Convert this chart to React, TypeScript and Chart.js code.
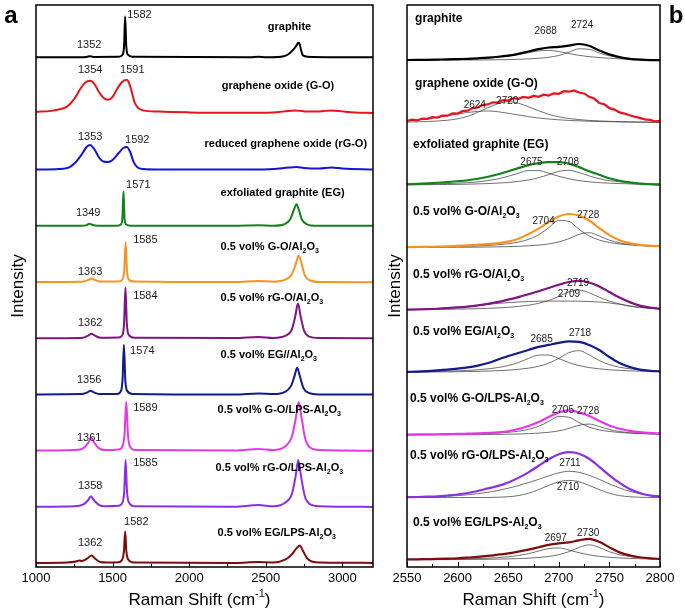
import React, { useEffect, useRef } from "react";
import { Chart, registerables } from "chart.js";
Chart.register(...registerables);

const FONT = "'Liberation Sans', Arial, Helvetica, sans-serif";
type Pt = [number, number];

// ================= Panel a : full Raman spectra (shift cm-1, intensity a.u.) =================
const aGraphite: Pt[] = [[1000,0.5],[1200,0.5],[1330,0.8],[1352,1.5],[1375,0.8],[1540,1],[1565,3],[1575,12],[1582,41],[1589,12],[1600,3],[1630,1],[2400,0.5],[2450,1],[2500,0.5],[2600,1],[2630,2],[2660,5],[2685,9],[2700,12],[2712,15],[2720,14],[2730,8],[2740,3],[2755,1.5],[2800,0.8],[3200,0.5]];
const aGO: Pt[] = [[1000,2],[1100,3],[1150,4.5],[1200,7],[1250,15],[1290,25],[1320,31],[1354,33],[1385,29],[1410,22],[1440,16],[1470,14],[1500,17],[1530,25],[1560,31.5],[1591,34],[1610,30],[1625,22],[1645,11],[1670,5.5],[1700,3.5],[1800,2.3],[2000,1.5],[2300,1.2],[2550,1.5],[2620,2.5],[2690,3.5],[2760,2.5],[2850,2.5],[2930,3.5],[3000,2.5],[3080,1.5],[3200,1]];
const aRGO: Pt[] = [[1000,0.5],[1150,1],[1220,3],[1260,8],[1300,16],[1330,23],[1353,25],[1380,21],[1410,13],[1440,8.5],[1470,8],[1500,10],[1540,17],[1570,22],[1592,23],[1615,18],[1635,9],[1660,3],[1700,1],[1800,0.5],[2400,0.5],[2550,1],[2650,2.5],[2700,3],[2750,2],[2850,1.5],[2930,2.5],[3000,1.5],[3200,0.5]];
const aEG: Pt[] = [[1000,0.5],[1300,0.5],[1330,1.2],[1349,2.5],[1370,1.2],[1400,0.5],[1530,0.5],[1555,2],[1564,8],[1571,35],[1578,8],[1587,2],[1620,0.5],[2300,0.5],[2450,1],[2550,0.5],[2620,2],[2660,7],[2685,17],[2700,22],[2715,17],[2735,7],[2770,2],[2820,0.5],[3200,0.5]];
const aGOAl: Pt[] = [[1000,0.5],[1300,0.8],[1340,2.5],[1363,4],[1385,2.5],[1420,1],[1540,1],[1565,3],[1576,12],[1585,40],[1594,12],[1605,3],[1640,1],[2300,0.5],[2450,1.5],[2550,0.8],[2630,3],[2670,8],[2695,18],[2715,27],[2735,18],[2755,7],[2790,2],[2850,0.5],[3200,0.3]];
const aRGOAl: Pt[] = [[1000,0.5],[1300,0.8],[1340,3],[1362,5],[1385,3],[1420,1],[1540,1.2],[1565,4],[1575,15],[1584,51],[1593,15],[1605,4],[1640,1],[2300,0.6],[2450,1.8],[2550,0.8],[2630,3],[2670,9],[2692,22],[2710,35],[2728,22],[2750,8],[2785,2],[2850,0.6],[3200,0.4]];
const aEGAl: Pt[] = [[1000,0.5],[1300,0.8],[1335,2.5],[1356,4],[1378,2.5],[1410,1],[1530,1],[1555,4],[1565,15],[1574,50],[1583,15],[1595,4],[1630,1],[2300,0.5],[2450,1.5],[2550,0.8],[2625,3],[2665,9],[2688,19],[2705,27],[2722,19],[2745,7],[2780,2],[2850,0.5],[3200,0.3]];
const aGOLPS: Pt[] = [[1000,0.5],[1250,1],[1310,3],[1340,8],[1361,13],[1382,8],[1410,3],[1450,1],[1540,1.5],[1565,5],[1578,17],[1589,49],[1600,17],[1612,5],[1650,1],[2300,0.6],[2450,2],[2550,1],[2630,5],[2670,14],[2695,32],[2715,49],[2735,32],[2758,12],[2790,3.5],[2850,1],[3200,0.4]];
const aRGOLPS: Pt[] = [[1000,0.5],[1250,1],[1310,3],[1340,7],[1358,11],[1378,7],[1410,2.5],[1450,1],[1540,1.5],[1565,5],[1576,16],[1585,47],[1594,16],[1606,5],[1645,1],[2300,0.6],[2450,2.2],[2550,1],[2630,5],[2670,13],[2695,31],[2712,47],[2730,31],[2755,11],[2790,3],[2850,1],[3200,0.4]];
const aEGLPS: Pt[] = [[1000,0.5],[1200,1],[1260,2],[1282,3],[1300,2.5],[1335,5],[1362,8],[1385,5],[1420,1.5],[1460,1],[1540,1.2],[1563,4],[1574,12],[1582,32],[1590,12],[1602,4],[1640,1],[2300,0.6],[2450,1.5],[2550,1],[2630,4],[2670,9],[2700,15],[2722,18],[2745,12],[2770,5],[2800,2],[2860,1],[3200,0.6]];

const aSpectra = [aGraphite, aGO, aRGO, aEG, aGOAl, aRGOAl, aEGAl, aGOLPS, aRGOLPS, aEGLPS];
const aNames = ["graphite", "graphene oxide (G-O)", "reduced graphene oxide (rG-O)", "exfoliated graphite (EG)", "0.5 vol% G-O/Al_2O_3", "0.5 vol% rG-O/Al_2O_3", "0.5 vol% EG//Al_2O_3", "0.5 vol% G-O/LPS-Al_2O_3", "0.5 vol% rG-O/LPS-Al_2O_3", "0.5 vol% EG/LPS-Al_2O_3"];
const aPeakG = [1582, 1591, 1592, 1571, 1585, 1584, 1574, 1589, 1585, 1582];
const aPeakD = [1352, 1354, 1353, 1349, 1363, 1362, 1356, 1361, 1358, 1362];
const aTicks = [1000, 1500, 2000, 2500, 3000];

// ================= Panel b : 2D band with fitted components =================
const bShift = [2550,2560,2570,2580,2590,2600,2610,2620,2630,2640,2650,2660,2670,2680,2690,2700,2710,2720,2730,2740,2750,2760,2770,2780,2790,2800];
const bShiftFine = [2550,2555,2560,2565,2570,2575,2580,2585,2590,2595,2600,2605,2610,2615,2620,2625,2630,2635,2640,2645,2650,2655,2660,2665,2670,2675,2680,2685,2690,2695,2700,2705,2710,2715,2720,2725,2730,2735,2740,2745,2750,2755,2760,2765,2770,2775,2780,2785,2790,2795,2800];

const bGraphite = [0.4,0.5,0.6,0.8,1.0,1.3,1.6,2.1,2.7,3.6,4.8,6.5,8.8,11.2,12.8,13.5,14.7,16.3,14.5,9.8,6.0,3.2,1.5,0.7,0.3,0.2];
const bGraphiteC1 = [0.5,0.6,0.7,0.8,1.0,1.2,1.4,1.8,2.3,3.1,4.2,5.7,7.6,9.4,10.0,8.8,6.8,5.0,3.7,2.8,2.1,1.6,1.2,0.9,0.6,0.4];
const bGraphiteC2 = [0.2,0.2,0.2,0.2,0.3,0.3,0.4,0.4,0.5,0.7,0.8,1.1,1.5,2.1,3.1,4.9,8.1,11.5,11.0,7.3,4.5,2.8,1.8,1.2,0.8,0.5];

const bGO = [2,3.1,2.4,4.2,3.9,5.6,5.2,7.3,7.1,9.4,9.2,11.6,12.1,14.6,15.2,17.9,18.3,20.4,20.2,22.5,22.1,24.4,23.8,25.7,24.9,26.8,25.9,27.9,27.1,29.3,28.8,31.4,30.9,32.2,30.1,29.2,25.8,24.1,19.7,18.4,14.6,13.1,10.4,9.2,7.5,6.1,4.9,3.4,3.0,1.6,1.9];
const bGOC1 = [2,3,4,5.5,7,8.8,10.3,11.4,11.8,11,9.5,7.8,6.2,4.8,3.8,3,2.4,2,1.6,1.3,1.1,0.9,0.8,0.7,0.6,0.5];
const bGOC2 = [0.8,1,1.3,1.8,2.6,4,6.5,10.5,15,19,21,19.5,16,12,8.5,6,4.3,3.2,2.4,1.9,1.5,1.2,1,0.8,0.7,0.6];

const bEG = [1,1.4,1.9,2.5,3.2,4,5,6.5,8.5,11,14,17,20,22,23,23,21.5,18,14,10.5,7,4.5,2.8,1.6,1,0.6];
const bEGC1 = [0.8,1.0,1.1,1.4,1.7,2.1,2.6,3.4,4.6,6.4,8.9,12,14.6,14.6,12,8.9,6.4,4.6,3.4,2.6,2.1,1.7,1.4,1.1,1.0,0.8];
const bEGC2 = [0.5,0.5,0.6,0.7,0.8,0.9,1.1,1.4,1.7,2.2,2.8,3.8,5.3,7.5,10.6,13.9,14.9,12.7,9.3,6.5,4.6,3.4,2.5,2.0,1.6,1.3];

const bGOAl = [0.6,0.7,0.9,1.1,1.4,1.8,2.3,2.9,3.6,4.6,6,9,13.5,19,25.5,31,33.5,32,27,19.5,12.5,7.5,4.5,2.8,2,1.6];
const bGOAlC1 = [0.56,0.64,0.73,0.85,1.0,1.2,1.45,1.8,2.28,2.96,3.99,5.6,8.26,12.8,19.9,27.1,26.1,18.3,11.7,7.61,5.21,3.74,2.8,2.17,1.72,1.4];
const bGOAlC2 = [0.23,0.25,0.29,0.32,0.37,0.43,0.5,0.6,0.72,0.88,1.1,1.42,1.89,2.6,3.77,5.73,8.99,13.3,14.9,11.6,7.5,4.81,3.23,2.28,1.68,1.28];

const bRGOAl = [0.5,0.7,1.0,1.4,2.0,2.7,3.6,4.8,6.3,8.2,10.5,13,15.8,18.8,22,25.3,28,29,27.5,23.5,18,12.5,8,4.5,2.5,1.5];
const bRGOAlC1 = [0.53,0.6,0.68,0.78,0.9,1.05,1.24,1.48,1.8,2.23,2.83,3.68,4.92,6.8,9.65,13.7,18.1,20,17.3,12.8,8.98,6.37,4.0,2.8,2.0,1.5];
const bRGOAlC2 = [0.5,0.7,1.0,1.5,2.1,2.9,3.8,4.8,5.8,6.7,7.5,8.1,8.6,8.9,9,9,9,8.9,8.6,8.1,7.2,5.8,4.2,2.8,1.8,1.1];

const bEGAl = [0.8,1.0,1.5,2.2,3.0,4.0,5.2,7,9.5,13,16.5,19.5,22.5,25.5,27.5,29.5,31,30.5,27.5,22.5,15.5,9.5,5.5,3,1.8,1.2];
const bEGAlC1 = [0.74,0.86,1.01,1.19,1.44,1.76,2.2,2.82,3.7,5.03,7.02,10,14,17.4,17.4,14,10,7.02,5.03,3.7,2.82,2.2,1.76,1.44,1.19,1.01];
const bEGAlC2 = [0.44,0.5,0.56,0.65,0.75,0.87,1.04,1.24,1.53,1.9,2.44,3.22,4.4,6.27,9.32,14.1,19.8,21.8,17.6,11.96,7.92,5.42,3.87,2.87,2.2,1.73];

const bGOLPS = [0.5,0.6,0.7,0.8,1.0,1.1,1.4,1.7,2.1,2.7,3.8,6,9,13,18,22.5,24.5,22.5,19,14,9.5,6.3,4.2,2.9,2.1,1.6];
const bGOLPSC1 = [0.38,0.43,0.5,0.58,0.68,0.81,0.98,1.22,1.55,2.01,2.71,3.8,5.61,8.69,13.5,18.4,17.7,12.4,7.94,5.17,3.54,2.54,1.9,1.47,1.17,0.95];
const bGOLPSC2 = [0.17,0.18,0.21,0.23,0.27,0.32,0.37,0.44,0.53,0.65,0.81,1.04,1.39,1.91,2.76,4.2,6.59,9.75,10.9,8.5,5.5,3.53,2.37,1.67,1.23,0.94];

const bRGOLPS = [0.3,0.5,0.8,1.2,2,3,4.5,6.5,9,11.5,15,19.5,25,31.5,38,43,45,43.5,38.5,30.5,22,14.5,8.5,4.5,2,1];
const bRGOLPSC1 = [0.3,0.4,0.6,0.9,1.3,1.9,2.7,3.8,5.2,7,9.2,11.8,14.8,18,21.5,24.5,26,25,22,18,13.5,9.5,6.2,3.8,2.2,1.3];
const bRGOLPSC2 = [0,0,0,0,0,0,0,0,0.05,0.24,0.75,1.9,4.2,7.8,12,15.6,17,15.6,12,7.8,4.2,1.9,0.75,0.24,0.05,0];

const bEGLPS = [0.5,0.6,0.8,1.0,1.3,1.7,2.3,3.0,4.0,5.2,6.6,8.3,10.3,12.6,15,16.5,17.5,19.5,21,18,12.5,7.5,4.5,2.7,1.6,1];
const bEGLPSC1 = [0.42,0.48,0.56,0.65,0.77,0.92,1.13,1.4,1.78,2.33,3.14,4.37,6.22,8.77,11.3,11.9,9.87,7.16,5.02,3.57,2.62,1.98,1.54,1.23,1.0,0.83];
const bEGLPSC2 = [0.21,0.24,0.27,0.3,0.35,0.41,0.48,0.57,0.69,0.85,1.06,1.35,1.78,2.43,3.48,5.24,8.2,12.4,15,12.4,8.2,5.24,3.48,2.43,1.78,1.35];

const bMain = [bGraphite, bGO, bEG, bGOAl, bRGOAl, bEGAl, bGOLPS, bRGOLPS, bEGLPS];
const bComp1 = [bGraphiteC1, bGOC1, bEGC1, bGOAlC1, bRGOAlC1, bEGAlC1, bGOLPSC1, bRGOLPSC1, bEGLPSC1];
const bComp2 = [bGraphiteC2, bGOC2, bEGC2, bGOAlC2, bRGOAlC2, bEGAlC2, bGOLPSC2, bRGOLPSC2, bEGLPSC2];
const bNames = ["graphite", "graphene oxide (G-O)", "exfoliated graphite (EG)", "0.5 vol% G-O/Al_2O_3", "0.5 vol% rG-O/Al_2O_3", "0.5 vol% EG/Al_2O_3", "0.5 vol% G-O/LPS-Al_2O_3", "0.5 vol% rG-O/LPS-Al_2O_3", "0.5 vol% EG/LPS-Al_2O_3"];
const bPeak1 = [2688, 2624, 2675, 2704, 2719, 2685, 2705, 2711, 2697];
const bPeak2 = [2724, 2720, 2708, 2728, 2709, 2718, 2728, 2710, 2730];
const bTicks = [2550, 2600, 2650, 2700, 2750, 2800];

// ================= styling / layout (not data) =================
const aColors = ["#000000", "#e8131b", "#1414d8", "#14821a", "#f7931e", "#7f1482", "#121a8c", "#e637e6", "#8b2ee6", "#7d0c0c"];
const bColors = ["#000000", "#e8131b", "#14821a", "#f7931e", "#7f1482", "#121a8c", "#e637e6", "#8b2ee6", "#7d0c0c"];
// label anchors: [shift, height above row baseline]
const aNameAt: Pt[] = [[2513,30.7],[2212,27.9],[2100,26],[2205,33.3],[2205,35.5],[2205,40.7],[2205,40],[2185,41],[2172,39],[2185,30.5]];
const aGAt: Pt[] = [[1675,42.7],[1629,43.9],[1661,30],[1668,41],[1714,42.5],[1714,42.7],[1694,44],[1714,43],[1714,44],[1655,41.5]];
const aDAt: Pt[] = [[1347,12.7],[1354,43.9],[1354,33],[1341,13],[1354,10.5],[1354,15.7],[1347,15],[1347,13],[1354,21],[1354,20.5]];
const bNameAt: Pt[] = [[2558,41.4],[2558,38.9],[2556,40.3],[2556,35.8],[2556,35.2],[2556,40.6],[2553,36.1],[2553,41.5],[2556,37]];
const bP1At: Pt[] = [[2687,29.4],[2617,17],[2673,23.3],[2685,25.8],[2719,27.2],[2683,33.6],[2704,25.1],[2711,34.5],[2697,22]];
const bP2At: Pt[] = [[2723,34.4],[2649,21],[2709,23.3],[2729,31.8],[2710,16.2],[2721,38.6],[2729,24.1],[2709,10.5],[2729,27]];

function drawRich(ctx: CanvasRenderingContext2D, text: string, x: number, y: number, size: number, weight: string, align: string) {
  const segs: { t: string; m: number }[] = [];
  let buf = "";
  for (let i = 0; i < text.length; i++) {
    const c = text[i];
    if (c === "_" && i + 1 < text.length) {
      if (buf) segs.push({ t: buf, m: 0 });
      buf = "";
      segs.push({ t: text[i + 1], m: 1 });
      i++;
    } else if (c === "^" && text[i + 1] === "{") {
      if (buf) segs.push({ t: buf, m: 0 });
      buf = "";
      const end = text.indexOf("}", i);
      segs.push({ t: text.slice(i + 2, end), m: 2 });
      i = end;
    } else buf += c;
  }
  if (buf) segs.push({ t: buf, m: 0 });
  const small = Math.round(size * 0.62);
  const fontFor = (m: number) => `${weight} ${m === 0 ? size : small}px ${FONT}`;
  let total = 0;
  const widths = segs.map((s) => {
    ctx.font = fontFor(s.m);
    const w = ctx.measureText(s.t).width;
    total += w;
    return w;
  });
  let cx = align === "center" ? x - total / 2 : align === "right" ? x - total : x;
  ctx.textAlign = "left";
  ctx.textBaseline = "middle";
  segs.forEach((s, i) => {
    ctx.font = fontFor(s.m);
    const dy = s.m === 1 ? size * 0.38 : s.m === 2 ? -size * 0.38 : 0;
    ctx.fillText(s.t, cx, y + dy);
    cx += widths[i];
  });
}

type Deco = {
  rows: number; row: number; off: number; step: number;
  names: string[]; nameAt: Pt[]; nameSize: number;
  n1: number[]; n1At: Pt[]; n2: number[]; n2At: Pt[]; numSize: number;
  yTitleX: number; letter: string; letterX: number; titleShift: number;
};

function decoPlugin(d: Deco) {
  return {
    id: "deco",
    afterDatasetsDraw(chart: any) {
      const ctx: CanvasRenderingContext2D = chart.ctx;
      const ca = chart.chartArea;
      const xs = chart.scales.x;
      const ys = chart.scales.y;
      const base = (k: number) => (d.rows - 1 - k) * d.row + d.off;
      ctx.save();
      ctx.strokeStyle = "#000";
      ctx.lineWidth = 1.5;
      ctx.strokeRect(ca.left, ca.top, ca.right - ca.left, ca.bottom - ca.top);
      ctx.lineWidth = 1;
      const half = d.step / 2;
      for (let v = xs.min; v <= xs.max + 1e-6; v += half) {
        const px = Math.round(xs.getPixelForValue(v)) + 0.5;
        const major = Math.abs((v - xs.min) % d.step) < 1e-6;
        ctx.beginPath();
        ctx.moveTo(px, ca.bottom);
        ctx.lineTo(px, ca.bottom - (major ? 5 : 3));
        ctx.stroke();
      }
      ctx.fillStyle = "#000";
      for (let k = 0; k < d.rows; k++) {
        drawRich(ctx, d.names[k], xs.getPixelForValue(d.nameAt[k][0]), ys.getPixelForValue(base(k) + d.nameAt[k][1]), d.nameSize, "bold", "left");
        ctx.fillStyle = "#1a1a1a";
        drawRich(ctx, String(d.n1[k]), xs.getPixelForValue(d.n1At[k][0]), ys.getPixelForValue(base(k) + d.n1At[k][1]), d.numSize, "normal", "center");
        drawRich(ctx, String(d.n2[k]), xs.getPixelForValue(d.n2At[k][0]), ys.getPixelForValue(base(k) + d.n2At[k][1]), d.numSize, "normal", "center");
        ctx.fillStyle = "#000";
      }
      drawRich(ctx, "Raman Shift (cm^{-1})", (ca.left + ca.right) / 2 + d.titleShift, 600, 17, "normal", "center");
      ctx.save();
      ctx.translate(d.yTitleX, (ca.top + ca.bottom) / 2);
      ctx.rotate(-Math.PI / 2);
      drawRich(ctx, "Intensity", 0, 0, 17, "normal", "center");
      ctx.restore();
      drawRich(ctx, d.letter, d.letterX, 16, 24, "bold", "center");
      ctx.restore();
    },
  };
}

function xAxis(min: number, max: number, step: number) {
  return {
    type: "linear",
    min,
    max,
    afterFit: (s: any) => { s.height = 46; },
    grid: { display: false, drawTicks: false },
    border: { display: false },
    ticks: {
      stepSize: step,
      includeBounds: false,
      autoSkip: false,
      maxRotation: 0,
      padding: 4,
      color: "#000",
      font: { family: FONT, size: 13 },
      callback: (v: any) => String(v),
    },
  };
}

const ROW_A = 56, OFF_A = 3.5, ROW_B = 62, OFF_B = 7;

function buildA(): any {
  const n = aSpectra.length;
  const datasets = aSpectra.map((pts, k) => ({
    data: pts.map(([x, v]) => ({ x, y: (n - 1 - k) * ROW_A + OFF_A + v })),
    borderColor: aColors[k],
    borderWidth: 2,
    pointRadius: 0,
    fill: false,
    cubicInterpolationMode: "monotone",
  }));
  return {
    type: "line",
    data: { datasets },
    options: {
      animation: false,
      responsive: false,
      events: [],
      layout: { padding: { left: 36, right: 12, top: 5, bottom: 0 } },
      plugins: { legend: { display: false }, tooltip: { enabled: false } },
      scales: {
        x: { ...xAxis(1000, 3200, 500), afterBuildTicks: (s: any) => { s.ticks = aTicks.map((v) => ({ value: v })); } },
        y: { type: "linear", display: false, min: 0, max: n * ROW_A },
      },
    },
    plugins: [decoPlugin({
      rows: n, row: ROW_A, off: OFF_A, step: 500,
      names: aNames, nameAt: aNameAt, nameSize: 11,
      n1: aPeakG, n1At: aGAt, n2: aPeakD, n2At: aDAt, numSize: 11,
      yTitleX: 18, letter: "a", letterX: 11, titleShift: -5,
    })],
  };
}

function buildB(): any {
  const n = bMain.length;
  const datasets: any[] = [];
  bMain.forEach((vals, k) => {
    const base = (n - 1 - k) * ROW_B + OFF_B;
    const fine = vals.length === bShiftFine.length;
    const xsrc = fine ? bShiftFine : bShift;
    datasets.push({
      data: vals.map((v, i) => ({ x: xsrc[i], y: base + v })),
      borderColor: bColors[k],
      borderWidth: 2.2,
      pointRadius: 0,
      fill: false,
      order: 0,
      cubicInterpolationMode: fine ? "default" : "monotone",
      tension: 0,
    });
    [bComp1[k], bComp2[k]].forEach((c) => {
      datasets.push({
        data: c.map((v, i) => ({ x: bShift[i], y: base + v })),
        borderColor: "#4a4a4a",
        borderWidth: 0.8,
        pointRadius: 0,
        fill: false,
        order: 1,
        cubicInterpolationMode: "monotone",
      });
    });
  });
  return {
    type: "line",
    data: { datasets },
    options: {
      animation: false,
      responsive: false,
      events: [],
      layout: { padding: { left: 22, right: 25, top: 5, bottom: 0 } },
      plugins: { legend: { display: false }, tooltip: { enabled: false } },
      scales: {
        x: { ...xAxis(2550, 2800, 50), afterBuildTicks: (s: any) => { s.ticks = bTicks.map((v) => ({ value: v })); } },
        y: { type: "linear", display: false, min: 0, max: n * ROW_B },
      },
    },
    plugins: [decoPlugin({
      rows: n, row: ROW_B, off: OFF_B, step: 50,
      names: bNames, nameAt: bNameAt, nameSize: 12,
      n1: bPeak1, n1At: bP1At, n2: bPeak2, n2At: bP2At, numSize: 10,
      yTitleX: 10, letter: "b", letterX: 291, titleShift: 0,
    })],
  };
}

function ChartCanvas({ build, left, width }: { build: () => any; left: number; width: number }) {
  const ref = useRef<HTMLCanvasElement>(null);
  useEffect(() => {
    const chart = new Chart(ref.current as HTMLCanvasElement, build());
    return () => chart.destroy();
  }, [build]);
  return (
    <canvas
      ref={ref}
      width={width}
      height={613}
      style={{ position: "absolute", left, top: 0, width, height: 613 }}
    />
  );
}

export default function App() {
  return (
    <div style={{ position: "absolute", left: 0, top: 0, width: 685, height: 613, background: "#fff", overflow: "hidden" }}>
      <ChartCanvas build={buildA} left={0} width={385} />
      <ChartCanvas build={buildB} left={385} width={300} />
    </div>
  );
}
